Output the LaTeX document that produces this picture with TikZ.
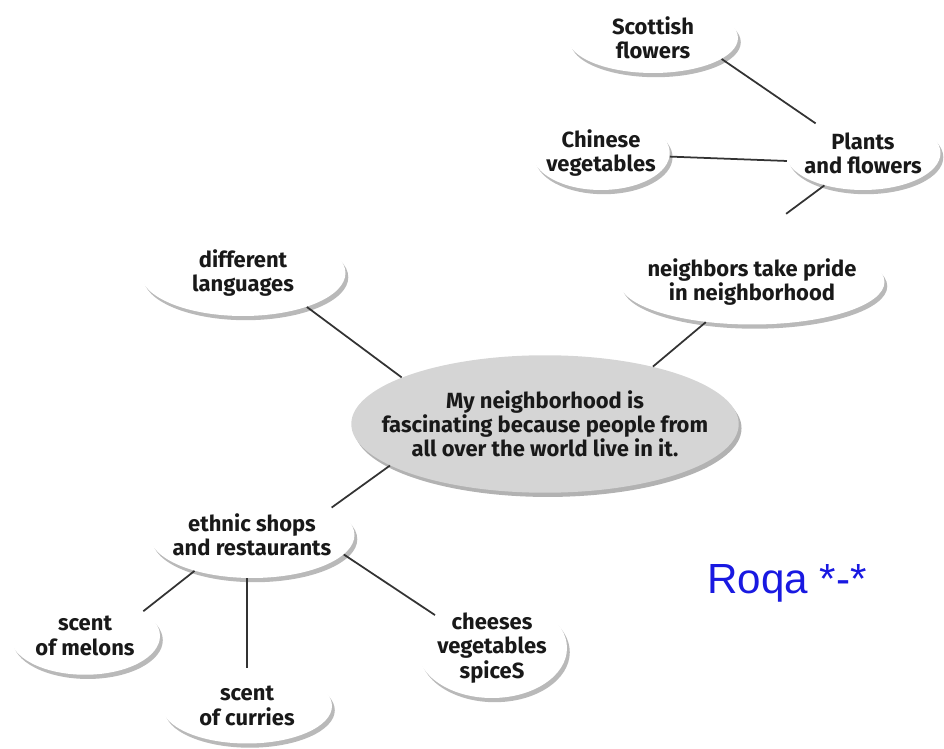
\documentclass[tikz,border=0pt]{standalone}
\usepackage{fontspec}
\setmainfont{Fira Sans}
\newfontfamily\roqafont{Liberation Sans}
\usetikzlibrary{shapes.geometric,shadows}
\definecolor{roqablue}{RGB}{25,25,225}

\tikzstyle{bubble}=[ellipse, inner xsep=-4cm, inner ysep=0pt, align=center,
  font=\bfseries\fontsize{12.5}{13.8}\selectfont, text=black!90]
\tikzstyle{idea}=[bubble, fill=white,
  drop shadow={shadow xshift=1.6pt, shadow yshift=-2.4pt, fill=gray!55, opacity=1}]
\tikzstyle{main}=[bubble, fill=gray!33,
  drop shadow={shadow xshift=1.6pt, shadow yshift=-2.4pt, fill=gray!60, opacity=1}]
\tikzstyle{link}=[draw=black!80, line width=1pt]
\tikzstyle{roqa}=[font=\roqafont\fontsize{24}{28}\selectfont, text=roqablue]

\begin{document}
\begin{tikzpicture}[x=0.02cm, y=-0.02cm]
    \useasboundingbox (0, 0) rectangle (944, 749);

    \node[idea, minimum width=3.4cm,  minimum height=1.4cm]  (scot)    at (653, 38)  {Scottish\\flowers};
    \node[idea, minimum width=3.1cm,  minimum height=1.48cm] (plants)  at (863, 153) {Plants\\and flowers};
    \node[idea, minimum width=2.75cm, minimum height=1.48cm] (chinese) at (601, 153) {Chinese\\vegetables};
    \node[idea, minimum width=5.3cm,  minimum height=1.7cm]  (pride)   at (752, 282) {neighbors take pride\\in neighborhood};
    \node[main, minimum width=7.75cm, minimum height=2.75cm] (center)  at (545, 424) {My neighborhood is\\fascinating because people from\\all over the world live in it.};
    \node[idea, minimum width=4.1cm,  minimum height=1.72cm] (lang)    at (243, 273) {different\\languages};
    \node[idea, minimum width=4.1cm,  minimum height=1.72cm] (ethnic)  at (252, 535) {ethnic shops\\and restaurants};
    \node[idea, minimum width=3cm,    minimum height=1.55cm] (melons)  at (85, 636)  {scent\\of melons};
    \node[idea, minimum width=3.4cm,  minimum height=1.5cm]  (curries) at (247, 706) {scent\\of curries};
    \node[idea, minimum width=3cm,    minimum height=2cm]    (cheese)  at (492, 648) {cheeses\\vegetables\\spiceS};
    \node[roqa] (sign) at (787, 583) {Roqa *-*};

    \draw[link] (scot.-17) -- (plants.148);
    \draw[link] (chinese.-3) -- (plants.186);
    \draw[link, shorten >=0.85cm] (plants.220) -- (pride.north);
    \draw[link] (pride.221) -- (center.28);
    \draw[link] (lang.-28) -- (center.162);
    \draw[link] (center.195) -- (ethnic.19);
    \draw[link] (ethnic.212) -- (melons.23);
    \draw[link] (ethnic.south -| curries.north) -- (curries.north);
    \draw[link] (ethnic.-12) -- (cheese.150);
\end{tikzpicture}
\end{document}
